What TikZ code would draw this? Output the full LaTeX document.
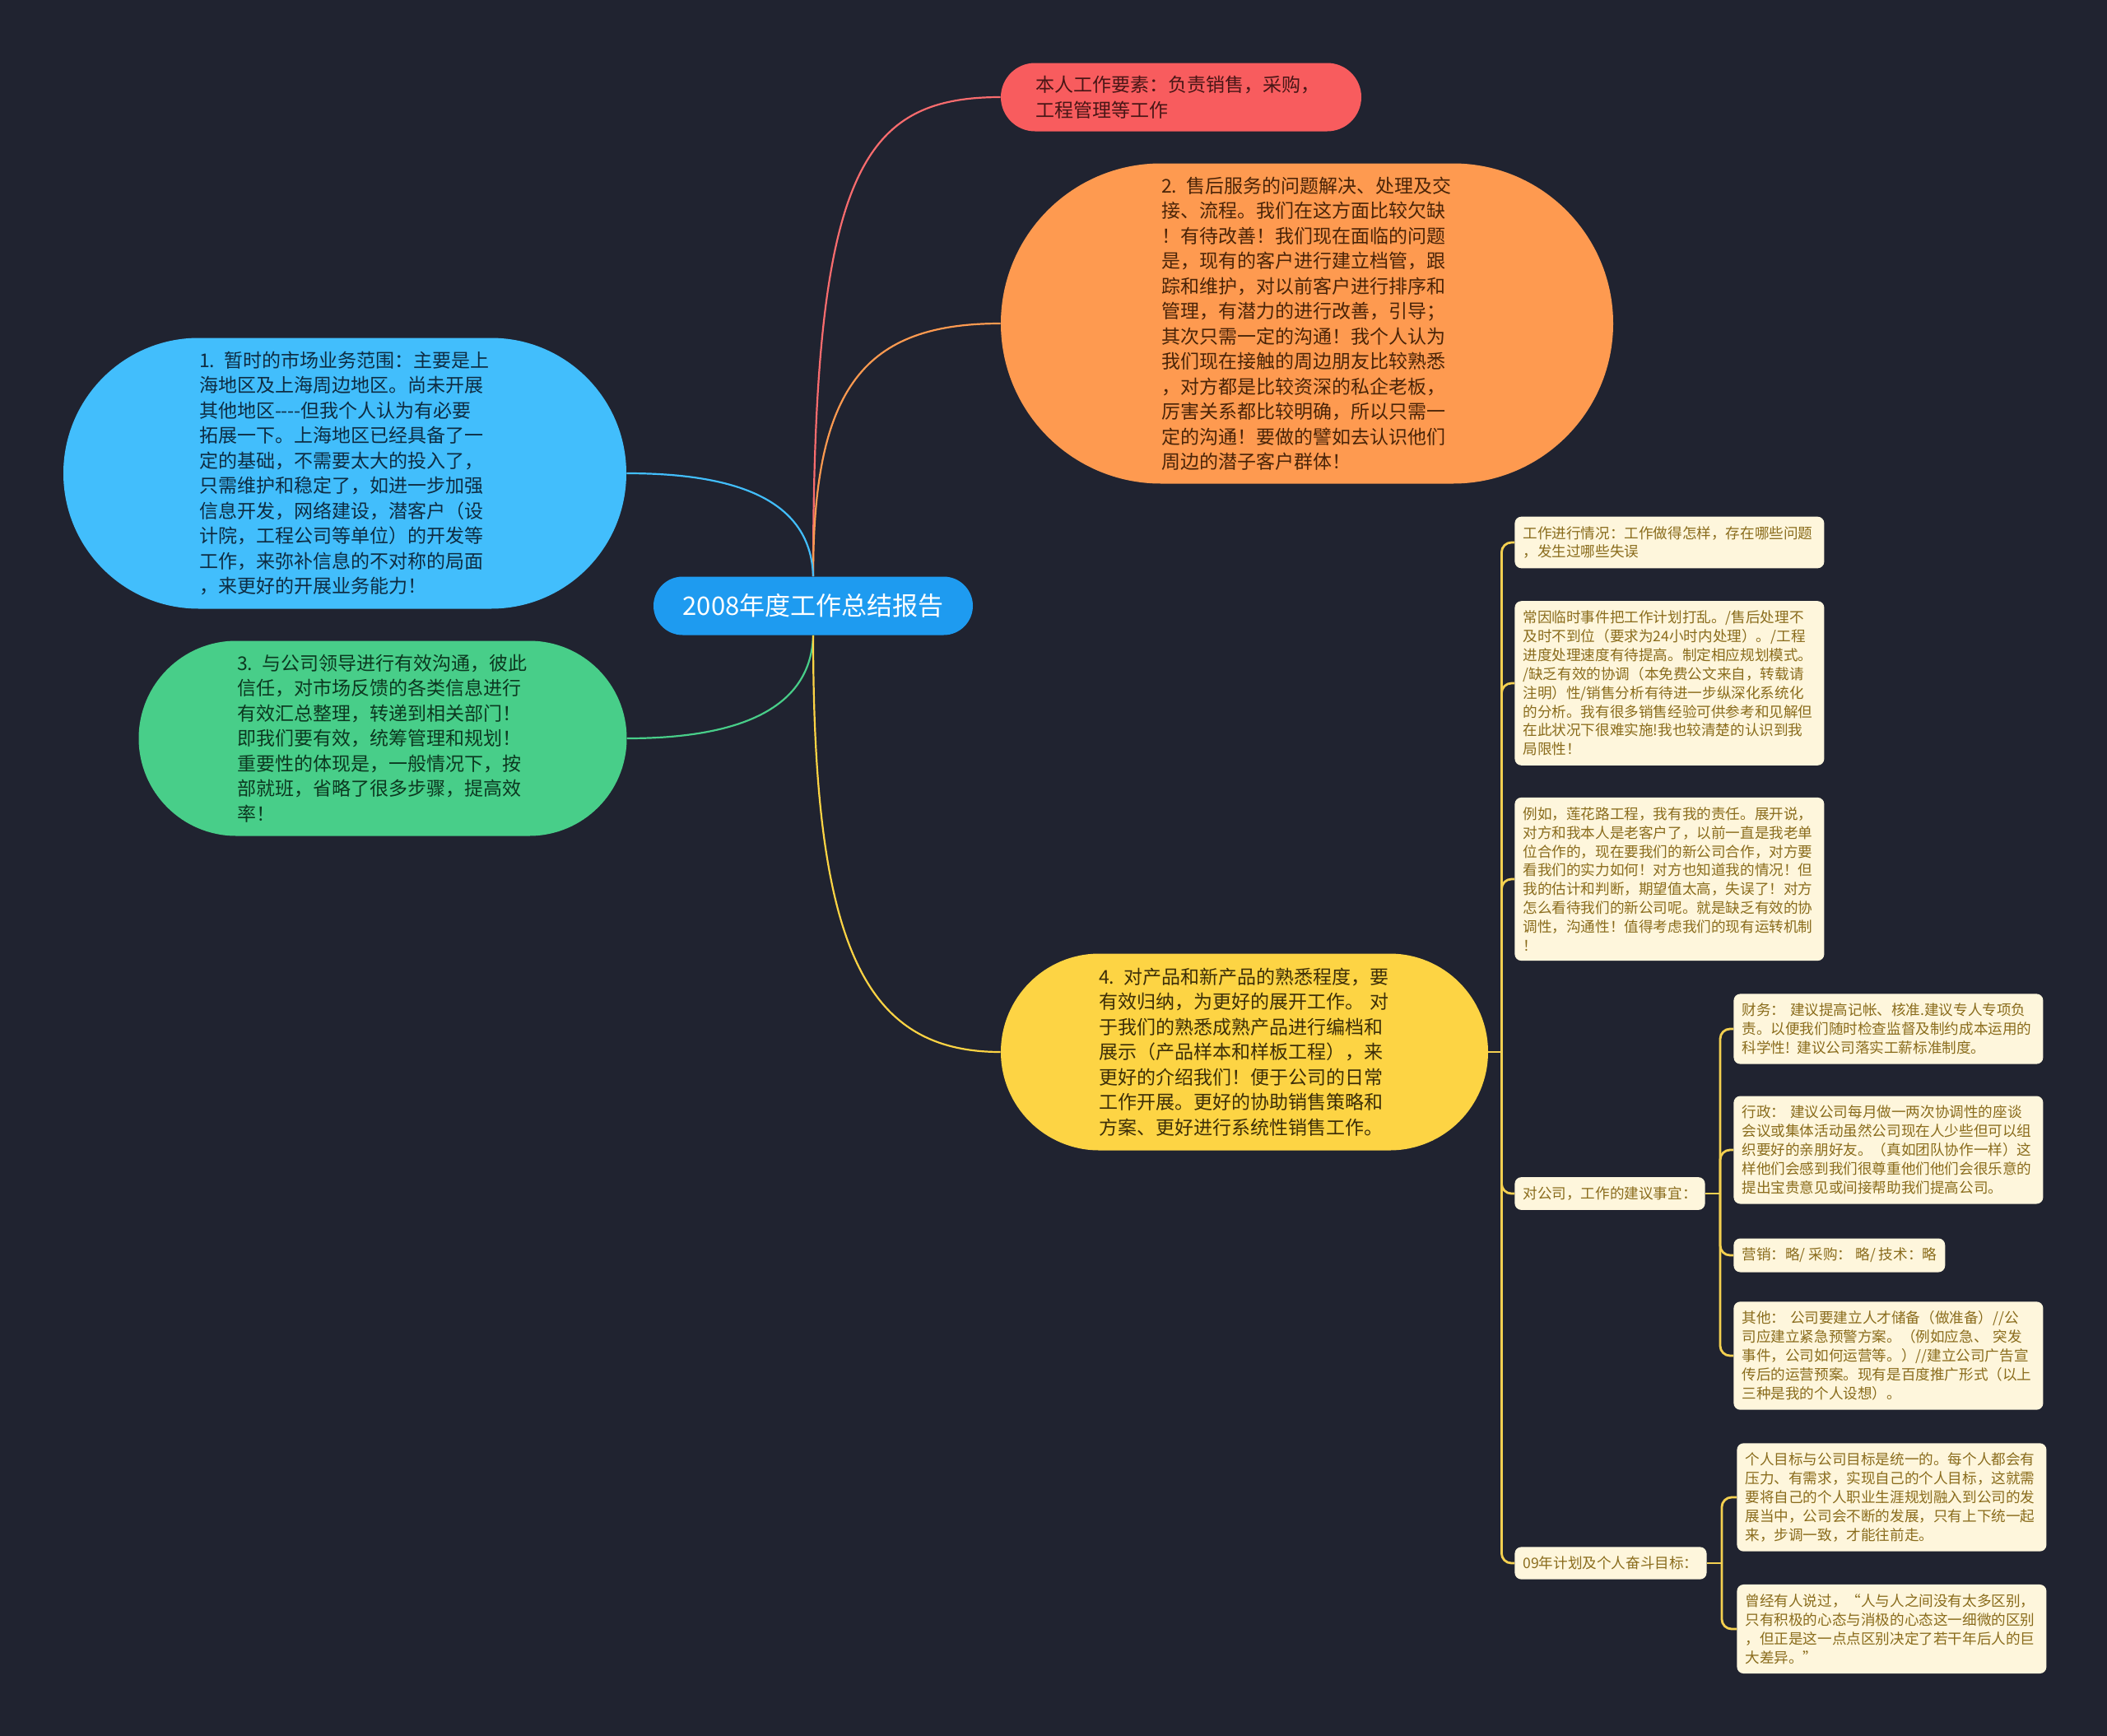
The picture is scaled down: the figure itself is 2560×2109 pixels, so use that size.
\documentclass[tikz,border=0pt]{standalone}
\usepackage{fontspec}
\setmainfont{Noto Sans CJK SC}
\usepackage{tikz}
\usetikzlibrary{shapes.misc}
\definecolor{bg}{RGB}{32,35,48}
\definecolor{rootc}{RGB}{30,155,240}
\definecolor{redc}{RGB}{248,92,94}
\definecolor{redt}{RGB}{72,22,22}
\definecolor{orac}{RGB}{254,154,80}
\definecolor{orat}{RGB}{74,36,8}
\definecolor{bluc}{RGB}{66,190,252}
\definecolor{blut}{RGB}{14,44,66}
\definecolor{grnc}{RGB}{72,206,137}
\definecolor{grnt}{RGB}{12,56,32}
\definecolor{yelc}{RGB}{253,212,68}
\definecolor{yelt}{RGB}{60,46,8}
\definecolor{leafc}{RGB}{254,246,220}
\definecolor{leaft}{RGB}{138,108,28}
\definecolor{linky}{RGB}{244,208,80}
\tikzset{
  root/.style={rounded rectangle,fill=rootc,text=white,inner xsep=0pt,minimum width=194pt,minimum height=35.5pt,font=\fontsize{15.5}{18}\selectfont},
  topic/.style={rounded rectangle,inner xsep=0pt,text width=177pt,align=left,font=\fontsize{11.5}{15.25}\selectfont},
  leaf/.style={fill=leafc,text=leaft,rounded corners=4pt,inner xsep=5pt,inner ysep=5.75pt,align=left,anchor=west,font=\fontsize{8.8}{11.45}\selectfont},
  wleaf/.style={leaf,text width=178pt},
  br/.style={line width=1.1pt},
  lk/.style={line width=1.4pt,draw=linky,rounded corners=6pt},
}
\begin{document}
\begin{tikzpicture}[x=0.5pt,y=-0.5pt]
\fill[bg] (0,0) rectangle (2560,2109);
\node[root] (root) at (988,736) {2008年度工作总结报告};
\node[topic,fill=redc,text=redt,minimum width=219pt,minimum height=41.5pt] (duty) at (1435,118) {本人工作要素：负责销售，采购，\\工程管理等工作};
\node[topic,fill=orac,text=orat,minimum width=372pt,minimum height=194.5pt] (svc) at (1588,393) {2. 售后服务的问题解决、处理及交\\接、流程。我们在这方面比较欠缺\\！有待改善！我们现在面临的问题\\是，现有的客户进行建立档管，跟\\踪和维护，对以前客户进行排序和\\管理，有潜力的进行改善，引导；\\其次只需一定的沟通！我个人认为\\我们现在接触的周边朋友比较熟悉\\，对方都是比较资深的私企老板，\\厉害关系都比较明确，所以只需一\\定的沟通！要做的譬如去认识他们\\周边的潜子客户群体！};
\node[topic,fill=bluc,text=blut,minimum width=342pt,minimum height=164.5pt] (mkt) at (419,575) {1. 暂时的市场业务范围：主要是上\\海地区及上海周边地区。尚未开展\\其他地区\mbox{-}\mbox{-}\mbox{-}\mbox{-}但我个人认为有必要\\拓展一下。上海地区已经具备了一\\定的基础，不需要太大的投入了，\\只需维护和稳定了，如进一步加强\\信息开发，网络建设，潜客户（设\\计院，工程公司等单位）的开发等\\工作，来弥补信息的不对称的局面\\，来更好的开展业务能力！};
\node[topic,fill=grnc,text=grnt,minimum width=296.5pt,minimum height=118.5pt] (com) at (465,897) {3. 与公司领导进行有效沟通，彼此\\信任，对市场反馈的各类信息进行\\有效汇总整理，转递到相关部门！\\即我们要有效，统筹管理和规划！\\重要性的体现是，一般情况下，按\\部就班，省略了很多步骤，提高效\\率！};
\node[topic,fill=yelc,text=yelt,minimum width=296pt,minimum height=119.5pt] (prd) at (1512,1278) {4. 对产品和新产品的熟悉程度，要\\有效归纳，为更好的展开工作。 对\\于我们的熟悉成熟产品进行编档和\\展示（产品样本和样板工程），来\\更好的介绍我们！便于公司的日常\\工作开展。更好的协助销售策略和\\方案、更好进行系统性销售工作。};
\node[wleaf] (p1) at (1840,659) {工作进行情况：工作做得怎样，存在哪些问题\\，发生过哪些失误};
\node[wleaf] (p2) at (1840,830) {常因临时事件把工作计划打乱。/售后处理不\\及时不到位（要求为24小时内处理）。/工程\\进度处理速度有待提高。制定相应规划模式。\\/缺乏有效的协调（本免费公文来自，转载请\\注明）性/销售分析有待进一步纵深化系统化\\的分析。我有很多销售经验可供参考和见解但\\在此状况下很难实施!我也较清楚的认识到我\\局限性！};
\node[wleaf] (p3) at (1840,1068) {例如，莲花路工程，我有我的责任。展开说，\\对方和我本人是老客户了，以前一直是我老单\\位合作的，现在要我们的新公司合作，对方要\\看我们的实力如何！对方也知道我的情况！但\\我的估计和判断，期望值太高，失误了！对方\\怎么看待我们的新公司呢。就是缺乏有效的协\\调性，沟通性！值得考虑我们的现有运转机制\\！};
\node[leaf] (p4) at (1840,1450) {对公司，工作的建议事宜：};
\node[leaf] (p5) at (1840,1899) {09年计划及个人奋斗目标：};
\node[wleaf] (s1) at (2106,1250) {财务： 建议提高记帐、核准.建议专人专项负\\责。以便我们随时检查监督及制约成本运用的\\科学性! 建议公司落实工薪标准制度。};
\node[wleaf] (s2) at (2106,1397) {行政： 建议公司每月做一两次协调性的座谈\\会议或集体活动虽然公司现在人少些但可以组\\织要好的亲朋好友。（真如团队协作一样）这\\样他们会感到我们很尊重他们他们会很乐意的\\提出宝贵意见或间接帮助我们提高公司。};
\node[leaf] (s3) at (2106,1525) {营销：略/ 采购： 略/ 技术：略};
\node[wleaf] (s4) at (2106,1647) {其他： 公司要建立人才储备（做准备）//公\\司应建立紧急预警方案。（例如应急、 突发\\事件，公司如何运营等。）//建立公司广告宣\\传后的运营预案。现有是百度推广形式（以上\\三种是我的个人设想）。};
\node[wleaf] (t1) at (2110,1819) {个人目标与公司目标是统一的。每个人都会有\\压力、有需求，实现自己的个人目标，这就需\\要将自己的个人职业生涯规划融入到公司的发\\展当中，公司会不断的发展，只有上下统一起\\来，步调一致，才能往前走。};
\node[wleaf] (t2) at (2110,1979) {曾经有人说过，“人与人之间没有太多区别，\\只有积极的心态与消极的心态这一细微的区别\\，但正是这一点点区别决定了若干年后人的巨\\大差异。”};
\draw[br,draw=redc!90!white] (root.north) .. controls (988,212) and (1045,118) .. (duty.west);
\draw[br,draw=orac] (root.north) .. controls (988,470) and (1050,393) .. (svc.west);
\draw[br,draw=bluc] (root.north) .. controls (985,600) and (880,575) .. (mkt.east);
\draw[br,draw=grnc] (root.south) .. controls (985,870) and (880,897) .. (com.east);
\draw[br,draw=yelc] (root.south) .. controls (988,1150) and (1050,1278) .. (prd.west);
\coordinate (pb) at ([xshift=8pt]prd.east);
\coordinate (sb) at ([xshift=9pt]p4.east);
\coordinate (tb) at ([xshift=9pt]p5.east);
\draw[lk] (prd.east) -- (pb);
\foreach \n in {p1,p2,p3,p4,p5} \draw[lk] (pb) |- (\n.west);
\draw[lk] (p4.east) -- (sb);
\foreach \n in {s1,s2,s3,s4} \draw[lk] (sb) |- (\n.west);
\draw[lk] (p5.east) -- (tb);
\foreach \n in {t1,t2} \draw[lk] (tb) |- (\n.west);
\end{tikzpicture}
\end{document}
